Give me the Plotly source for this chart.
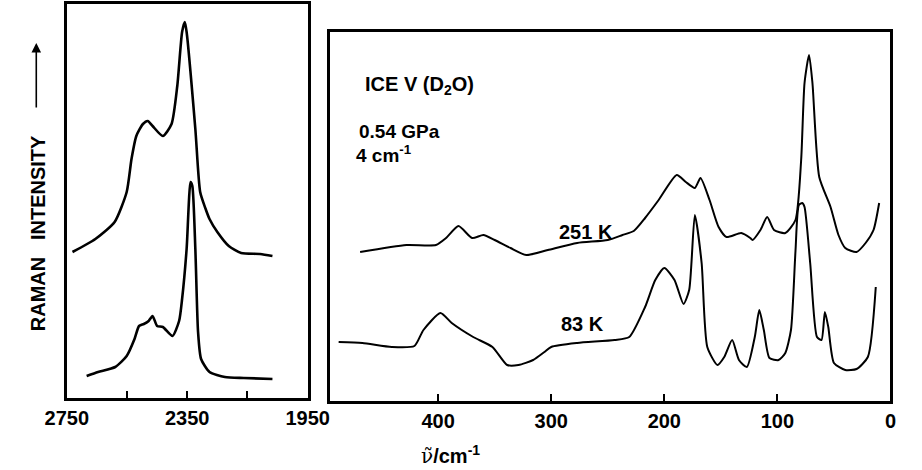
import plotly.graph_objects as go

W, H = 922, 470

# ---------------- data ----------------
# Left panel: O-D stretching region (wavenumber, arbitrary intensity)
left_upper_wn = [2731, 2655, 2591, 2551, 2535, 2519, 2497, 2481, 2465, 2431, 2402, 2383,
                 2367, 2358, 2352, 2323, 2307, 2290, 2276, 2250, 2212, 2171, 2108, 2067]
left_upper_int = [146, 159, 176, 206, 239, 262, 274, 277, 272, 262, 274, 312,
                  366, 376, 366, 269, 206, 190, 179, 166, 152, 145, 144, 142]

left_lower_wn = [2684, 2646, 2589, 2551, 2525, 2510, 2494, 2478, 2465, 2450, 2431, 2399,
                 2377, 2367, 2352, 2339, 2333, 2323, 2314, 2304, 2276, 2225, 2162, 2067]
left_lower_int = [22, 26, 31, 42, 59, 72, 74, 77, 82, 72, 71, 62,
                  77, 99, 149, 216, 212, 149, 66, 39, 26, 21, 20, 19]

# Right panel: lattice region
r251_wn = [469, 428, 402, 393, 382, 370, 360, 350, 336, 322, 303, 277, 250, 237, 227,
           217, 205, 189, 181, 173, 168, 160, 152, 145, 132, 124, 122, 115, 109, 103,
           93, 84, 79, 76, 72, 69, 63, 53, 46, 40, 30, 22, 15, 10]
r251_int = [149, 156, 156, 163, 175, 163, 166, 161, 153, 146, 151, 158, 161, 166, 170,
            183, 201, 226, 219, 213, 223, 201, 174, 164, 168, 163, 161, 171, 184, 171,
            168, 181, 241, 318, 346, 318, 224, 194, 166, 153, 149, 158, 171, 198]

r83_wn = [488, 467, 441, 421, 413, 398, 388, 369, 352, 339, 329, 316, 306, 300, 277,
          244, 231, 217, 208, 200, 191, 183, 178, 173, 167, 162, 153, 147, 140, 134,
          127, 120, 116, 112, 107, 99, 93, 88, 84, 81, 78, 76, 71, 65, 61, 58, 55,
          50, 40, 30, 20, 13]
r83_int = [59, 58, 54, 55, 71, 88, 78, 64, 54, 36, 36, 41, 49, 54, 58,
           61, 64, 94, 121, 133, 121, 97, 111, 186, 138, 54, 36, 44, 61, 41,
           34, 64, 91, 71, 43, 41, 48, 71, 150, 196, 198, 194, 138, 64, 61, 89, 74,
           38, 31, 32, 44, 114]

left_tickvals = [2750, 2550, 2350, 2150, 1950]
left_ticktext = ["2750", "", "2350", "", "1950"]
right_tickvals = [400, 300, 200, 100, 0]
right_ticktext = ["400", "300", "200", "100", "0"]

# ---------------- layout geometry (pixels) ----------------
L = dict(x0=47, x1=300, top=4, bot=398)
R = dict(x0=323, x1=912, top=32, bot=401)

def px_x(p):
    return p / W

def px_y(p):
    return 1 - p / H

FONT = "Liberation Sans, Arial, sans-serif"

def bold(lst):
    return [f"<b>{t}</b>" if t else "" for t in lst]

fig = go.Figure()
curves = [
    (left_upper_wn, left_upper_int, "x", "y", 2.6),
    (left_lower_wn, left_lower_int, "x", "y", 2.6),
    (r251_wn, r251_int, "x2", "y2", 2.0),
    (r83_wn, r83_int, "x2", "y2", 2.0),
]
for xs, ys, xa, ya, lw in curves:
    fig.add_trace(go.Scatter(x=xs, y=ys, mode="lines",
                             line=dict(color="black", width=lw, shape="spline", smoothing=0.6),
                             xaxis=xa, yaxis=ya, showlegend=False, hoverinfo="skip"))

frame = dict(showline=True, linecolor="black", linewidth=2.8, mirror=True,
             showgrid=False, zeroline=False)
xtick = dict(ticks="inside", ticklen=7, tickwidth=2, tickcolor="black",
             tickfont=dict(family=FONT, size=20, color="black"))

fig.update_layout(
    width=W, height=H,
    margin=dict(l=0, r=0, t=0, b=0),
    paper_bgcolor="white", plot_bgcolor="white",
    font=dict(family=FONT, color="black"),
    xaxis=dict(domain=[px_x(L["x0"]), px_x(L["x1"])], range=[2750, 1950],
               tickvals=left_tickvals, ticktext=bold(left_ticktext), anchor="y",
               **frame, **xtick),
    yaxis=dict(domain=[px_y(L["bot"]), px_y(L["top"])], range=[0, L["bot"] - L["top"]],
               showticklabels=False, ticks="", anchor="x", **frame),
    xaxis2=dict(domain=[px_x(R["x0"]), px_x(R["x1"])], range=[496, 0],
                tickvals=right_tickvals, ticktext=bold(right_ticktext), anchor="y2",
                **frame, **xtick),
    yaxis2=dict(domain=[px_y(R["bot"]), px_y(R["top"])], range=[0, R["bot"] - R["top"]],
                showticklabels=False, ticks="", anchor="x2", **frame),
)

def txt(text, x, y, size=19, xanchor="left", angle=0, family=FONT):
    fig.add_annotation(text=text, x=px_x(x), y=px_y(y), xref="paper", yref="paper",
                       showarrow=False, xanchor=xanchor, yanchor="middle",
                       textangle=angle,
                       font=dict(family=family, size=size, color="black"))

txt("<b>ICE V (D<sub>2</sub>O)</b>", 358, 86, size=20)
txt("<b>0.54 GPa</b>", 352, 131, size=19)
txt("<b>4 cm<sup>-1</sup></b>", 349, 154, size=19)
txt("<b>251 K</b>", 592, 232, size=20, xanchor="center")
txt("<b>83 K</b>", 589, 324, size=20, xanchor="center")
txt("<b>RAMAN&nbsp;&nbsp; INTENSITY</b>", 17, 233, size=20, xanchor="center", angle=-90)
txt("<span style='font-family:DejaVu Serif'>ν̃</span><b>/cm<sup>-1</sup></b>", 450, 455,
    size=20, xanchor="center")

# arrow next to the y label
fig.add_annotation(x=px_x(15), y=px_y(43), xref="paper", yref="paper", text="",
                   showarrow=True, ax=0, ay=66, arrowhead=2, arrowsize=1.2,
                   arrowwidth=1.6, arrowcolor="black")

fig.write_html("out.html")
